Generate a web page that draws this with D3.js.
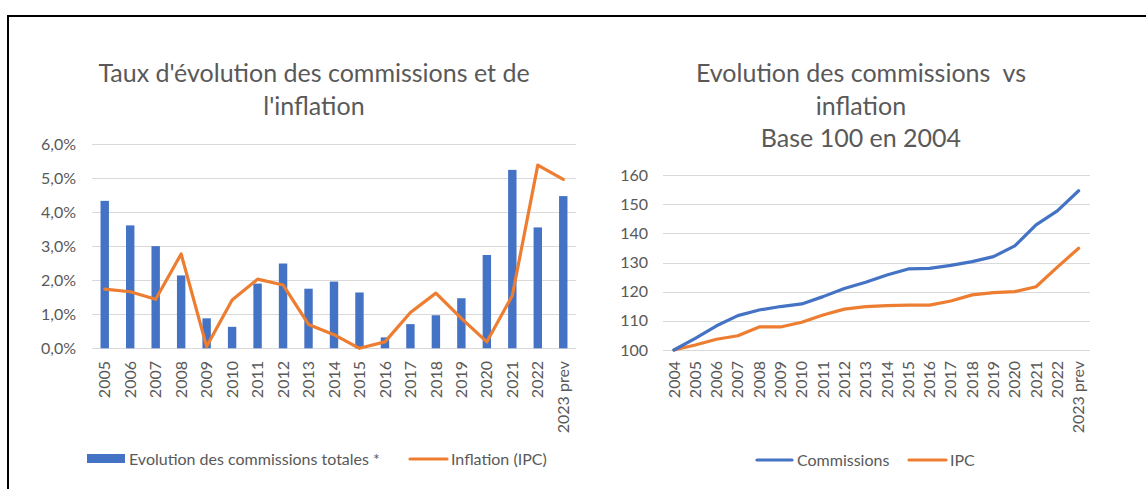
<!DOCTYPE html>
<html>
<head>
<meta charset="utf-8">
<script src="https://cdn.jsdelivr.net/npm/d3@7"></script>
<style>
	body { margin: 0; background: #fff; }
	text { font-family: Lato, "Open Sans", sans-serif; fill: #595959; }
</style>
</head>
<body>
<svg id="chart"></svg>
<script>
// left chart: yearly rates
var yearsRate = ["2005","2006","2007","2008","2009","2010","2011","2012","2013","2014","2015","2016","2017","2018","2019","2020","2021","2022","2023 prev"];
var commissionsRate = [4.33,3.61,3.00,2.14,0.88,0.63,1.90,2.49,1.75,1.96,1.64,0.32,0.71,0.97,1.47,2.74,5.24,3.55,4.47];
var inflationRate = [1.74,1.66,1.44,2.77,0.05,1.42,2.03,1.86,0.70,0.40,0.00,0.19,1.05,1.62,0.88,0.19,1.55,5.38,4.96];
var rateTicks = [0,1,2,3,4,5,6];

// right chart: base 100 in 2004
var yearsIndex = ["2004"].concat(yearsRate);
var commissionsIndex = [100,104.0,108.3,111.8,113.7,114.9,115.8,118.3,121.1,123.2,125.7,127.8,128.0,129.0,130.3,132.0,135.7,142.9,147.7,154.6];
var ipcIndex = [100,101.7,103.7,104.9,107.9,107.9,109.5,112.0,114.0,114.9,115.2,115.4,115.4,116.8,118.9,119.7,120.0,121.7,128.4,134.9];
var indexTicks = [100,110,120,130,140,150,160];

var blue = "#4472C4", orange = "#ED7D31", grid = "#d9d9d9";
var width = 1146, height = 489;
var fs = "16px";

var svg = d3.select("#chart").attr("width", width).attr("height", height);

//frame (top and left only)
svg.append("line").attr("x1", 7).attr("x2", width).attr("y1", 16).attr("y2", 16)
	.style("stroke", "#000").style("stroke-width", 2);
svg.append("line").attr("x1", 8).attr("x2", 8).attr("y1", 15).attr("y2", height)
	.style("stroke", "#000").style("stroke-width", 2);

function title(lines, cx, y0) {
	var t = svg.append("text").attr("text-anchor", "middle").style("font-size", "25px");
	lines.forEach(function(l, i) {
		t.append("tspan").attr("x", cx).attr("y", y0 + i * 32.5).text(l);
	});
}

function yAxis(scale, ticks, xEnd, x0, x1, fmt) {
	var g = svg.append("g");
	g.selectAll("line").data(ticks).enter().append("line")
		.attr("x1", x0).attr("x2", x1)
		.attr("y1", function(d) { return Math.round(scale(d)) + 0.5; })
		.attr("y2", function(d) { return Math.round(scale(d)) + 0.5; })
		.style("stroke", grid).style("stroke-width", 1);
	g.selectAll("text").data(ticks).enter().append("text")
		.attr("x", xEnd).attr("y", function(d) { return scale(d); })
		.attr("dy", "0.35em").attr("text-anchor", "end")
		.style("font-size", fs)
		.text(fmt);
}

function xLabels(cats, pos, yTop) {
	svg.append("g").selectAll("text").data(cats).enter().append("text")
		.attr("transform", function(d) { return "translate(" + pos(d) + "," + yTop + ") rotate(-90)"; })
		.attr("dy", "0.35em").attr("text-anchor", "end")
		.style("font-size", fs)
		.text(function(d) { return d; });
}

//---------- left chart
title(["Taux d'évolution des commissions et de", "l'inflation"], 314, 82);

var xL = d3.scaleBand().domain(yearsRate).range([92, 576]).paddingInner(0.67).paddingOuter(0.335);
var yL = d3.scaleLinear().domain([0, 6]).range([348.3, 144]);
var fmtPct = function(d) { return d3.format(".1f")(d).replace(".", ",") + "%"; };

yAxis(yL, rateTicks, 76, 92, 576, fmtPct);

svg.append("g").selectAll("rect").data(commissionsRate).enter().append("rect")
	.attr("x", function(d, i) { return xL(yearsRate[i]); })
	.attr("width", xL.bandwidth())
	.attr("y", function(d) { return yL(d); })
	.attr("height", function(d) { return yL(0) - yL(d); })
	.style("fill", blue);

var lineL = d3.line()
	.x(function(d, i) { return xL(yearsRate[i]) + xL.bandwidth() / 2; })
	.y(function(d) { return yL(d); });
svg.append("path").datum(inflationRate).attr("d", lineL)
	.style("fill", "none").style("stroke", orange).style("stroke-width", 3.2)
	.style("stroke-linejoin", "round").style("stroke-linecap", "round");

xLabels(yearsRate, function(d) { return xL(d) + xL.bandwidth() / 2; }, 361);

//legend left
var lgL = svg.append("g").style("font-size", fs);
lgL.append("rect").attr("x", 87).attr("y", 454).attr("width", 38).attr("height", 9).style("fill", blue);
lgL.append("text").attr("x", 129).attr("y", 465).text("Evolution des commissions totales *");
lgL.append("line").attr("x1", 410).attr("x2", 447).attr("y1", 459).attr("y2", 459)
	.style("stroke", orange).style("stroke-width", 3.2).style("stroke-linecap", "round");
lgL.append("text").attr("x", 451).attr("y", 465).text("Inflation (IPC)");

//---------- right chart
title(["Evolution des commissions\u00a0 vs", "inflation", "Base 100 en 2004"], 861, 82);

var xR = d3.scalePoint().domain(yearsIndex).range([663.3, 1089.3]).padding(0.5);
var yR = d3.scaleLinear().domain([100, 160]).range([350, 175]);

yAxis(yR, indexTicks, 648, 663, 1090, function(d) { return d; });

var lineR = d3.line()
	.x(function(d, i) { return xR(yearsIndex[i]); })
	.y(function(d) { return yR(d); });
[[ipcIndex, orange], [commissionsIndex, blue]].forEach(function(s) {
	svg.append("path").datum(s[0]).attr("d", lineR)
		.style("fill", "none").style("stroke", s[1]).style("stroke-width", 3.2)
		.style("stroke-linejoin", "round").style("stroke-linecap", "round");
});

xLabels(yearsIndex, xR, 361);

//legend right
var lgR = svg.append("g").style("font-size", fs);
lgR.append("line").attr("x1", 757).attr("x2", 792).attr("y1", 460).attr("y2", 460)
	.style("stroke", blue).style("stroke-width", 3.2).style("stroke-linecap", "round");
lgR.append("text").attr("x", 797).attr("y", 466).text("Commissions");
lgR.append("line").attr("x1", 909).attr("x2", 946).attr("y1", 460).attr("y2", 460)
	.style("stroke", orange).style("stroke-width", 3.2).style("stroke-linecap", "round");
lgR.append("text").attr("x", 950).attr("y", 466).text("IPC");
</script>
</body>
</html>
